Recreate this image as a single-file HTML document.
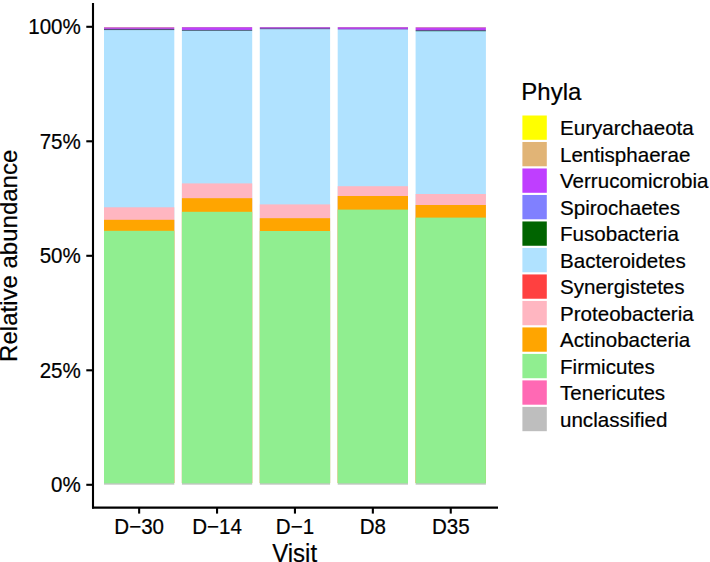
<!DOCTYPE html>
<html><head><meta charset="utf-8"><style>
html,body{margin:0;padding:0;background:#fff;width:710px;height:562px;overflow:hidden}
svg{display:block}
.t{font-family:"Liberation Sans",sans-serif;font-size:20.57px;fill:#000;stroke:#000;stroke-width:0.2px}
.ti{font-family:"Liberation Sans",sans-serif;font-size:24px;fill:#000;stroke:#000;stroke-width:0.2px}
</style></head><body>
<svg width="710" height="562" viewBox="0 0 710 562">
<rect width="710" height="562" fill="#fff"/>
<rect x="104.00" y="31.00" width="70.3" height="452.00" fill="#B0E2FF"/>
<rect x="104.00" y="207.30" width="70.3" height="275.70" fill="#FFB6C1"/>
<rect x="104.00" y="219.80" width="70.3" height="263.20" fill="#FFA500"/>
<rect x="104.00" y="230.80" width="70.3" height="252.20" fill="#90EE90"/>
<rect x="104.00" y="27" width="70.3" height="1" fill="#D07CC8"/>
<rect x="104.00" y="28" width="70.3" height="1" fill="#B84EE4"/>
<rect x="104.00" y="29" width="70.3" height="1" fill="#56507C"/>
<rect x="104.00" y="30" width="70.3" height="1" fill="#A8D8F0"/>
<rect x="104.00" y="483" width="70.3" height="1" fill="#B2D2B2"/>
<rect x="104.00" y="484" width="70.3" height="1" fill="#D4D8D4"/>
<rect x="181.90" y="31.00" width="70.3" height="452.00" fill="#B0E2FF"/>
<rect x="181.90" y="183.40" width="70.3" height="299.60" fill="#FFB6C1"/>
<rect x="181.90" y="198.20" width="70.3" height="284.80" fill="#FFA500"/>
<rect x="181.90" y="211.80" width="70.3" height="271.20" fill="#90EE90"/>
<rect x="181.90" y="27" width="70.3" height="1" fill="#C462D8"/>
<rect x="181.90" y="28" width="70.3" height="1" fill="#BF40FF"/>
<rect x="181.90" y="29" width="70.3" height="1" fill="#B248F2"/>
<rect x="181.90" y="30" width="70.3" height="1" fill="#5A7088"/>
<rect x="181.90" y="483" width="70.3" height="1" fill="#B2D2B2"/>
<rect x="181.90" y="484" width="70.3" height="1" fill="#D4D8D4"/>
<rect x="259.80" y="30.00" width="70.3" height="453.00" fill="#B0E2FF"/>
<rect x="259.80" y="204.40" width="70.3" height="278.60" fill="#FFB6C1"/>
<rect x="259.80" y="218.20" width="70.3" height="264.80" fill="#FFA500"/>
<rect x="259.80" y="231.00" width="70.3" height="252.00" fill="#90EE90"/>
<rect x="259.80" y="27" width="70.3" height="1" fill="#BA62D8"/>
<rect x="259.80" y="28" width="70.3" height="1" fill="#8050B0"/>
<rect x="259.80" y="29" width="70.3" height="1" fill="#A0C8E8"/>
<rect x="259.80" y="483" width="70.3" height="1" fill="#B2D2B2"/>
<rect x="259.80" y="484" width="70.3" height="1" fill="#D4D8D4"/>
<rect x="337.70" y="30.00" width="70.3" height="453.00" fill="#B0E2FF"/>
<rect x="337.70" y="186.20" width="70.3" height="296.80" fill="#FFB6C1"/>
<rect x="337.70" y="196.00" width="70.3" height="287.00" fill="#FFA500"/>
<rect x="337.70" y="209.60" width="70.3" height="273.40" fill="#90EE90"/>
<rect x="337.70" y="27" width="70.3" height="1" fill="#C262D8"/>
<rect x="337.70" y="28" width="70.3" height="1" fill="#B042E8"/>
<rect x="337.70" y="29" width="70.3" height="1" fill="#98A0E0"/>
<rect x="337.70" y="483" width="70.3" height="1" fill="#B2D2B2"/>
<rect x="337.70" y="484" width="70.3" height="1" fill="#D4D8D4"/>
<rect x="415.60" y="32.00" width="70.3" height="451.00" fill="#B0E2FF"/>
<rect x="415.60" y="194.00" width="70.3" height="289.00" fill="#FFB6C1"/>
<rect x="415.60" y="205.00" width="70.3" height="278.00" fill="#FFA500"/>
<rect x="415.60" y="217.60" width="70.3" height="265.40" fill="#90EE90"/>
<rect x="415.60" y="27" width="70.3" height="1" fill="#D080C8"/>
<rect x="415.60" y="28" width="70.3" height="1" fill="#C040F8"/>
<rect x="415.60" y="29" width="70.3" height="1" fill="#B840F0"/>
<rect x="415.60" y="30" width="70.3" height="1" fill="#60508A"/>
<rect x="415.60" y="31" width="70.3" height="1" fill="#88C8D0"/>
<rect x="415.60" y="483" width="70.3" height="1" fill="#B2D2B2"/>
<rect x="415.60" y="484" width="70.3" height="1" fill="#D4D8D4"/>
<line x1="93.0" y1="3" x2="93.0" y2="508.6" stroke="#000" stroke-width="2.1"/>
<line x1="92.0" y1="507.6" x2="498" y2="507.6" stroke="#000" stroke-width="2.1"/>
<line x1="86.3" y1="484.80" x2="93.0" y2="484.80" stroke="#000" stroke-width="2.1"/>
<text transform="translate(80.80,492.20) scale(1,1.04)" text-anchor="end" class="t">0%</text>
<line x1="86.3" y1="370.30" x2="93.0" y2="370.30" stroke="#000" stroke-width="2.1"/>
<text transform="translate(80.80,377.70) scale(1,1.04)" text-anchor="end" class="t">25%</text>
<line x1="86.3" y1="255.80" x2="93.0" y2="255.80" stroke="#000" stroke-width="2.1"/>
<text transform="translate(80.80,263.20) scale(1,1.04)" text-anchor="end" class="t">50%</text>
<line x1="86.3" y1="141.30" x2="93.0" y2="141.30" stroke="#000" stroke-width="2.1"/>
<text transform="translate(80.80,148.70) scale(1,1.04)" text-anchor="end" class="t">75%</text>
<line x1="86.3" y1="26.80" x2="93.0" y2="26.80" stroke="#000" stroke-width="2.1"/>
<text transform="translate(80.80,34.20) scale(1,1.04)" text-anchor="end" class="t">100%</text>
<line x1="139.15" y1="507.6" x2="139.15" y2="513.6" stroke="#000" stroke-width="2.1"/>
<text transform="translate(139.15,533.60) scale(1,1.04)" text-anchor="middle" class="t">D−30</text>
<line x1="217.05" y1="507.6" x2="217.05" y2="513.6" stroke="#000" stroke-width="2.1"/>
<text transform="translate(217.05,533.60) scale(1,1.04)" text-anchor="middle" class="t">D−14</text>
<line x1="294.95" y1="507.6" x2="294.95" y2="513.6" stroke="#000" stroke-width="2.1"/>
<text transform="translate(294.95,533.60) scale(1,1.04)" text-anchor="middle" class="t">D−1</text>
<line x1="372.85" y1="507.6" x2="372.85" y2="513.6" stroke="#000" stroke-width="2.1"/>
<text transform="translate(372.85,533.60) scale(1,1.04)" text-anchor="middle" class="t">D8</text>
<line x1="450.75" y1="507.6" x2="450.75" y2="513.6" stroke="#000" stroke-width="2.1"/>
<text transform="translate(450.75,533.60) scale(1,1.04)" text-anchor="middle" class="t">D35</text>
<text transform="translate(294.60,561.80) scale(1,1.04)" text-anchor="middle" class="ti">Visit</text>
<text transform="translate(17.00,255.80) rotate(-90)" text-anchor="middle" class="ti">Relative abundance</text>
<text transform="translate(521.30,99.90)" class="ti">Phyla</text>
<rect x="522.4" y="115.50" width="24.4" height="24.3" fill="#FFFF00"/>
<text transform="translate(560.00,135.25) scale(1,1.02)" class="t">Euryarchaeota</text>
<rect x="522.4" y="141.99" width="24.4" height="24.3" fill="#E1B476"/>
<text transform="translate(560.00,161.74) scale(1,1.02)" class="t">Lentisphaerae</text>
<rect x="522.4" y="168.48" width="24.4" height="24.3" fill="#BF3EFF"/>
<text transform="translate(560.00,188.23) scale(1,1.02)" class="t">Verrucomicrobia</text>
<rect x="522.4" y="194.97" width="24.4" height="24.3" fill="#8080FF"/>
<text transform="translate(560.00,214.72) scale(1,1.02)" class="t">Spirochaetes</text>
<rect x="522.4" y="221.46" width="24.4" height="24.3" fill="#006400"/>
<text transform="translate(560.00,241.21) scale(1,1.02)" class="t">Fusobacteria</text>
<rect x="522.4" y="247.95" width="24.4" height="24.3" fill="#B0E2FF"/>
<text transform="translate(560.00,267.70) scale(1,1.02)" class="t">Bacteroidetes</text>
<rect x="522.4" y="274.44" width="24.4" height="24.3" fill="#FF4040"/>
<text transform="translate(560.00,294.19) scale(1,1.02)" class="t">Synergistetes</text>
<rect x="522.4" y="300.93" width="24.4" height="24.3" fill="#FFB6C1"/>
<text transform="translate(560.00,320.68) scale(1,1.02)" class="t">Proteobacteria</text>
<rect x="522.4" y="327.42" width="24.4" height="24.3" fill="#FFA500"/>
<text transform="translate(560.00,347.17) scale(1,1.02)" class="t">Actinobacteria</text>
<rect x="522.4" y="353.91" width="24.4" height="24.3" fill="#90EE90"/>
<text transform="translate(560.00,373.66) scale(1,1.02)" class="t">Firmicutes</text>
<rect x="522.4" y="380.40" width="24.4" height="24.3" fill="#FF69B4"/>
<text transform="translate(560.00,400.15) scale(1,1.02)" class="t">Tenericutes</text>
<rect x="522.4" y="406.89" width="24.4" height="24.3" fill="#BEBEBE"/>
<text transform="translate(560.00,426.64) scale(1,1.02)" class="t">unclassified</text>
</svg>
</body></html>
